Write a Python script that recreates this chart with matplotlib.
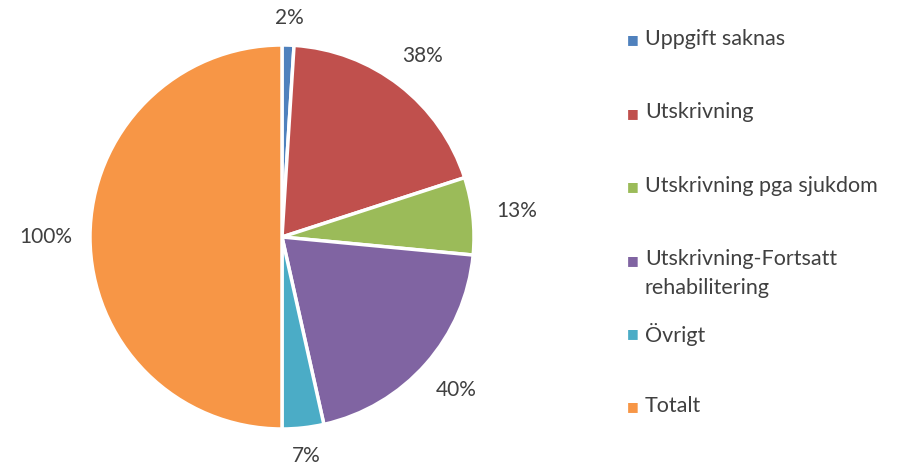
import matplotlib
matplotlib.use("Agg")
import numpy as np
import matplotlib.pyplot as plt

plt.rcParams['font.family'] = ['Lato', 'DejaVu Sans']

# data
categories = ["Uppgift saknas", "Utskrivning", "Utskrivning pga sjukdom",
              "Utskrivning-Fortsatt\nrehabilitering", "Övrigt", "Totalt"]
values = [2, 38, 13, 40, 7, 100]
colors = ["#4F81BD", "#C0504D", "#9BBB59", "#8064A2", "#4BACC6", "#F79646"]
text_col = "#404040"

W, H = 899, 466
fig = plt.figure(figsize=(W / 100, H / 100), dpi=100)
ax = fig.add_axes([(282 - 192) / W, (229 - 192) / H, 384 / W, 384 / H])

wedges, texts = ax.pie(values, colors=colors, startangle=90, counterclock=False,
                       labels=[f"{v}%" for v in values], labeldistance=1.2,
                       wedgeprops=dict(edgecolor="white", linewidth=2.5),
                       textprops=dict(fontsize=15, color=text_col))
ax.set_xlim(-1, 1)
ax.set_ylim(-1, 1)
ax.set_aspect("equal")

# excel style labels: centred, a bit further out at the sides
for w, t in zip(wedges, texts):
    w.set_clip_on(False)
    ang = np.deg2rad((w.theta1 + w.theta2) / 2)
    r = 1.14 + 0.09 * abs(np.cos(ang))
    t.set_position((r * np.cos(ang), r * np.sin(ang)))
    t.set_ha("center")
    t.set_va("center")

# legend drawn by hand so that the two-line entry hangs down like in excel
y0, step = 40, 73.4
for i, (lab, c) in enumerate(zip(categories, colors)):
    y = 1 - (y0 + step * i) / H
    fig.text(627 / W, y, "\u25A0", color=c, fontsize=9, va="center",
             family="DejaVu Sans")
    fig.text(645 / W, y + 11 / H, lab, color=text_col, fontsize=15.5,
             va="top", ha="left", linespacing=1.55)

fig.savefig("out.png", dpi=100)
